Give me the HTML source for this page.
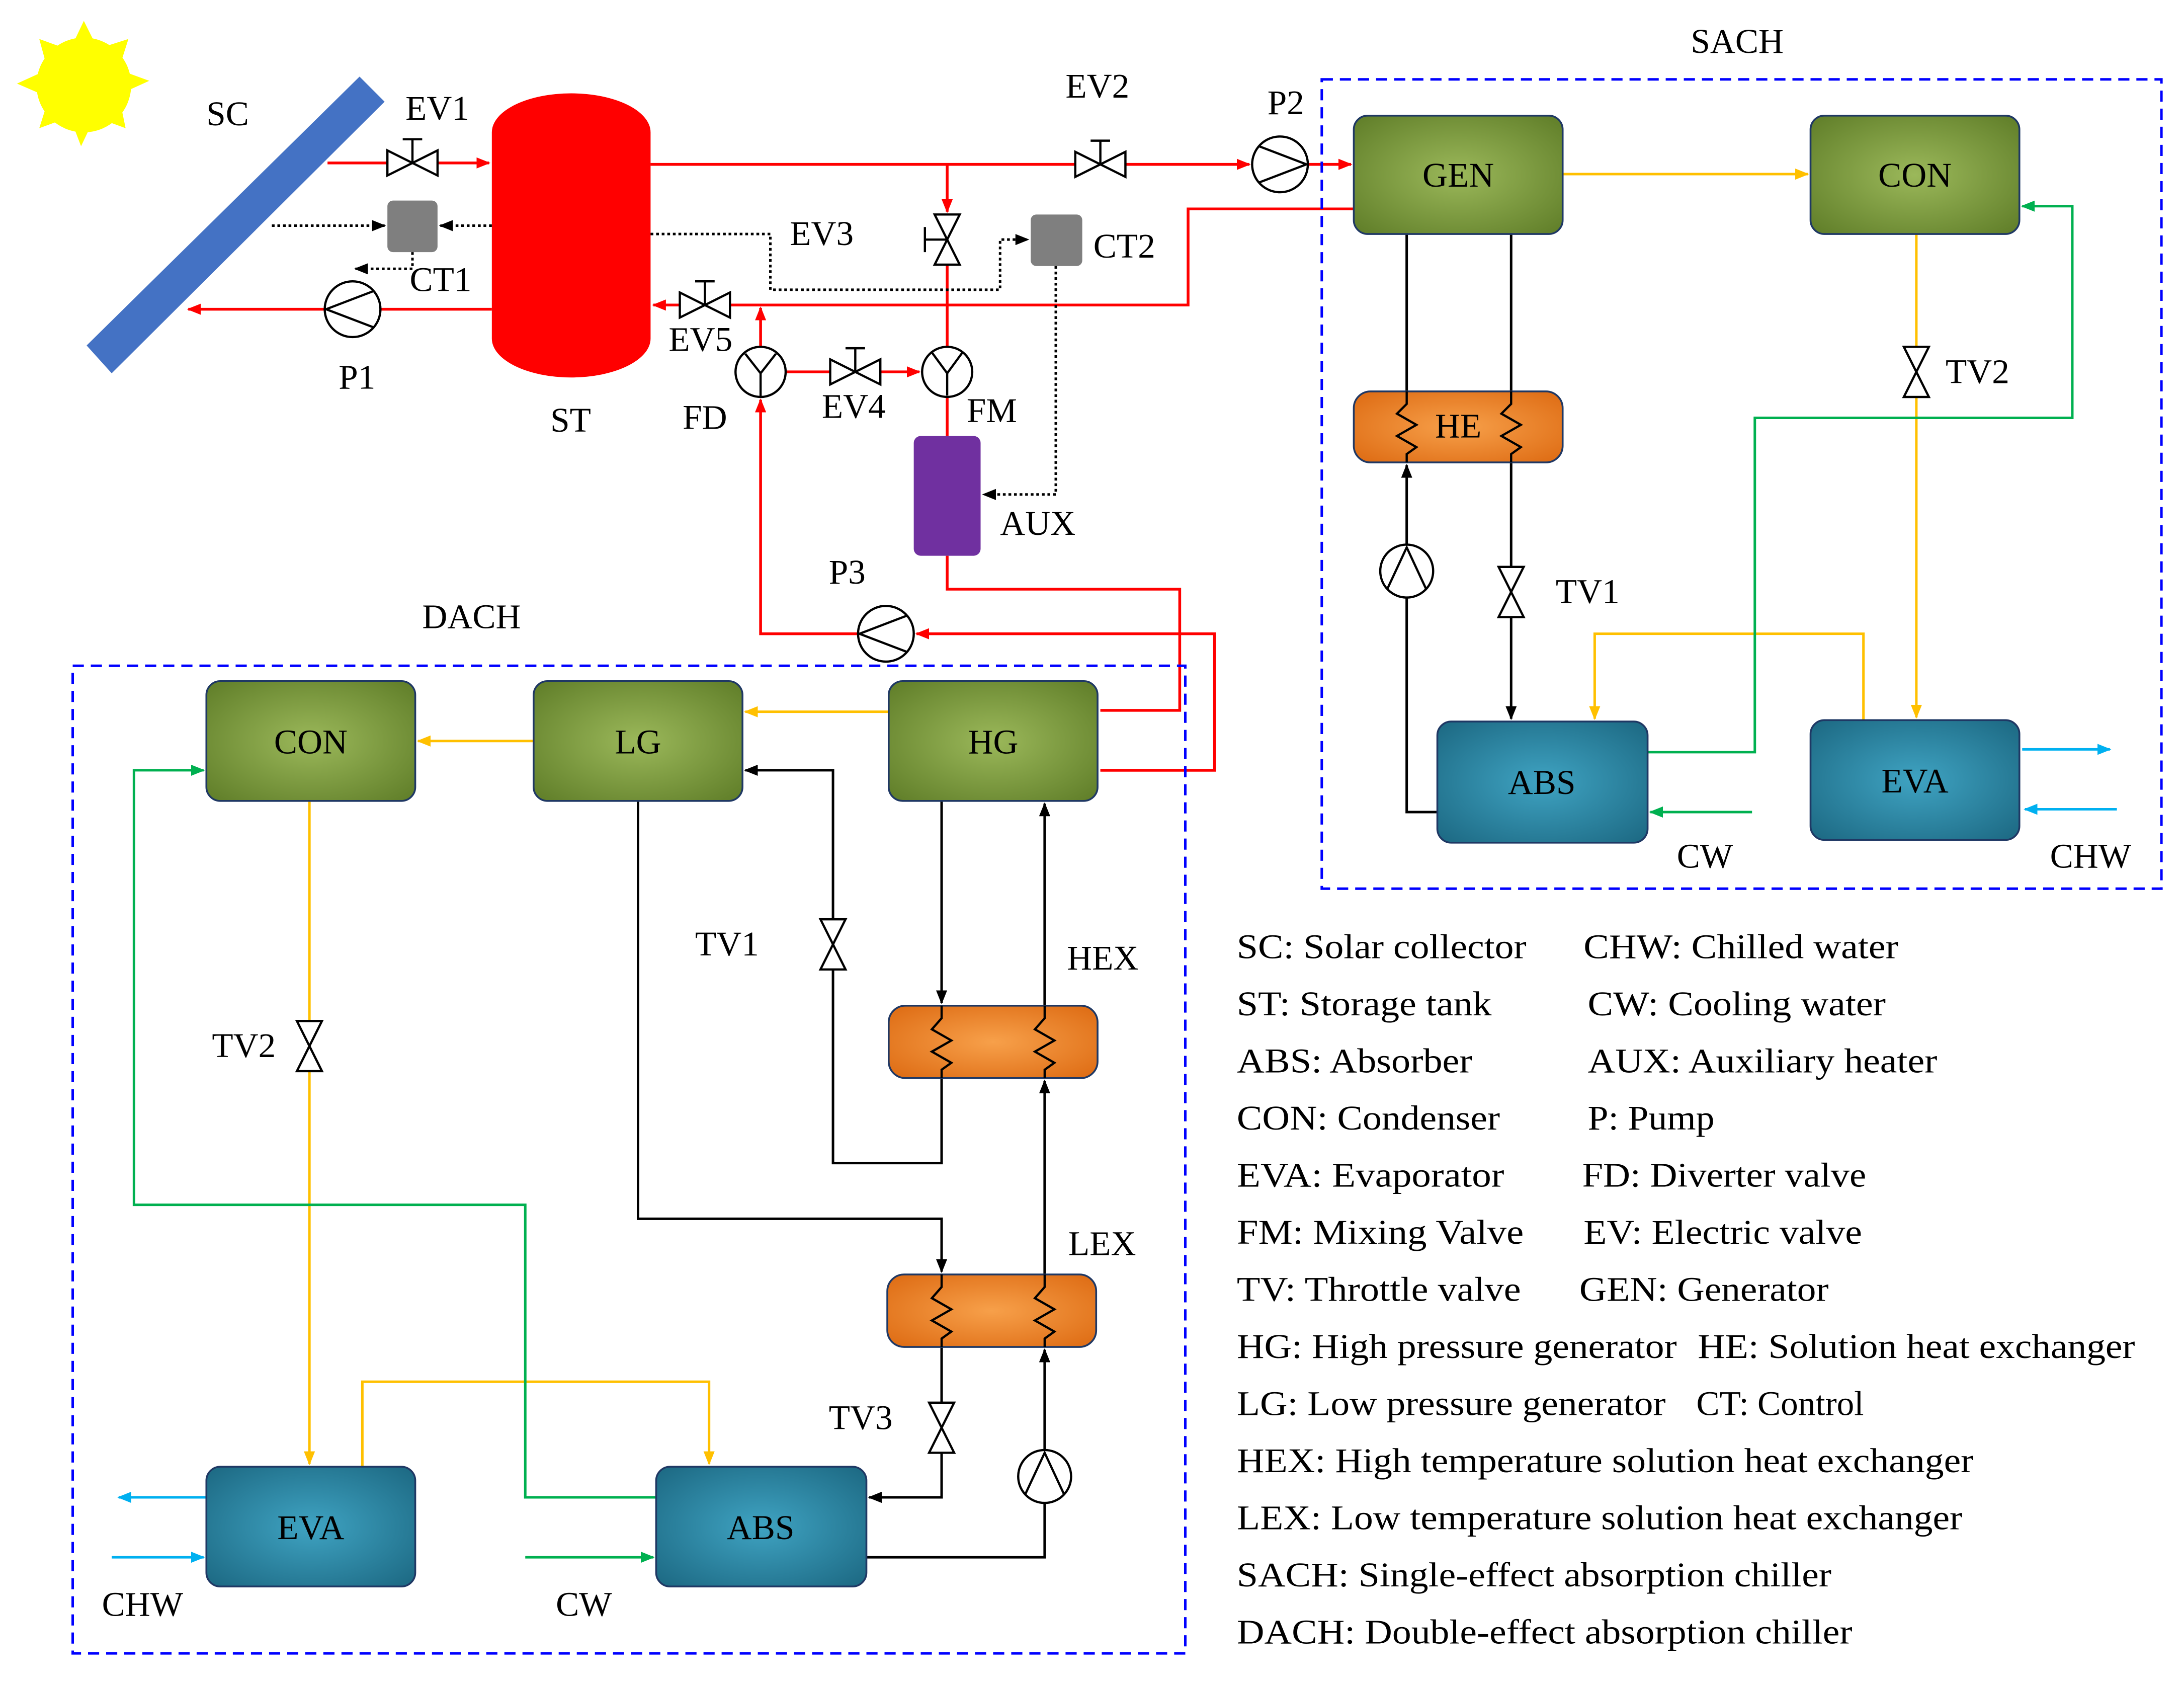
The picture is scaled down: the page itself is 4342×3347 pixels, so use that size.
<!DOCTYPE html>
<html><head><meta charset="utf-8"><style>
html,body{margin:0;padding:0;background:#fff;}
svg{display:block;}
text{font-family:"Liberation Serif",serif;fill:#000;}
</style></head><body>
<svg width="4342" height="3347" viewBox="0 0 1568 1209" xmlns="http://www.w3.org/2000/svg">
<defs>
<marker id="ar" markerWidth="10" markerHeight="8" refX="9" refY="4" orient="auto" markerUnits="userSpaceOnUse"><path d="M0,0 L10,4 L0,8 z" fill="#f00"/></marker>
<marker id="ak" markerWidth="10" markerHeight="8" refX="9" refY="4" orient="auto" markerUnits="userSpaceOnUse"><path d="M0,0 L10,4 L0,8 z" fill="#000"/></marker>
<marker id="ao" markerWidth="10" markerHeight="8" refX="9" refY="4" orient="auto" markerUnits="userSpaceOnUse"><path d="M0,0 L10,4 L0,8 z" fill="#ffc000"/></marker>
<marker id="ag" markerWidth="10" markerHeight="8" refX="9" refY="4" orient="auto" markerUnits="userSpaceOnUse"><path d="M0,0 L10,4 L0,8 z" fill="#00b050"/></marker>
<marker id="ab" markerWidth="10" markerHeight="8" refX="9" refY="4" orient="auto" markerUnits="userSpaceOnUse"><path d="M0,0 L10,4 L0,8 z" fill="#00b0f0"/></marker>
<radialGradient id="gg" cx="50%" cy="50%" r="70%"><stop offset="0" stop-color="#9bb85a"/><stop offset="1" stop-color="#5f7d28"/></radialGradient>
<radialGradient id="go" cx="50%" cy="50%" r="70%"><stop offset="0" stop-color="#f7a04a"/><stop offset="1" stop-color="#dd6a12"/></radialGradient>
<radialGradient id="gt" cx="50%" cy="50%" r="70%"><stop offset="0" stop-color="#3fa3c2"/><stop offset="1" stop-color="#1c6882"/></radialGradient>
</defs>

<polygon points="60,15 70,35 92,28 85,50 107,58 85,68 90,92 68,84 58,105 50,84 28,92 35,70 12,60 34,50 28,28 50,36" fill="#ffff00"/>
<circle cx="60" cy="61" r="34" fill="#ffff00"/>
<polygon points="62,248 258,55 276,73 80,268" fill="#4472c4"/>
<text x="148" y="90" font-size="25">SC</text>

<g stroke="#f00" stroke-width="2" fill="none">
<line x1="235" y1="117" x2="351" y2="117" marker-end="url(#ar)"/>
<line x1="467" y1="118" x2="897" y2="118" marker-end="url(#ar)"/>
<line x1="939" y1="118" x2="970" y2="118" marker-end="url(#ar)"/>
<line x1="680" y1="118" x2="680" y2="152" marker-end="url(#ar)"/>
<line x1="680" y1="190" x2="680" y2="249"/>
<line x1="680" y1="285" x2="680" y2="313"/>
<polyline points="972,150 853,150 853,219 469,219" marker-end="url(#ar)"/>
<line x1="353" y1="222" x2="135" y2="222" marker-end="url(#ar)"/>
<line x1="564" y1="267" x2="660" y2="267" marker-end="url(#ar)"/>
<line x1="546" y1="249" x2="546" y2="221" marker-end="url(#ar)"/>
<polyline points="680,399 680,423 847,423 847,510 790,510"/>
<polyline points="790,553 872,553 872,455 658,455" marker-end="url(#ar)"/>
<polyline points="616,455 546,455 546,287" marker-end="url(#ar)"/>
</g>

<path d="M353,95 A57,28 0 0 1 467,95 L467,243 A57,28 0 0 1 353,243 Z" fill="#f00"/>
<text x="395" y="310" font-size="25">ST</text>

<g stroke="#000" stroke-width="1.6" fill="#fff">
<polygon points="278,108 314,126 314,108 278,126"/><line x1="296" y1="117" x2="296" y2="100"/><line x1="289" y1="100" x2="303" y2="100"/>
<polygon points="772,109 808,127 808,109 772,127"/><line x1="790" y1="118" x2="790" y2="101"/><line x1="783" y1="101" x2="797" y2="101"/>
<polygon points="488,210 524,228 524,210 488,228"/><line x1="506" y1="219" x2="506" y2="202"/><line x1="499" y1="202" x2="513" y2="202"/>
<polygon points="596,258 632,276 632,258 596,276"/><line x1="614" y1="267" x2="614" y2="250"/><line x1="607" y1="250" x2="621" y2="250"/>
<polygon points="671,154 689,190 671,190 689,154"/><line x1="680" y1="172" x2="664" y2="172"/><line x1="664" y1="163" x2="664" y2="181"/>
</g>

<g stroke="#000" stroke-width="1.6" fill="#fff">
<circle cx="253" cy="222" r="20"/><polyline points="268,209 234,222 268,235" fill="none"/>
<circle cx="919" cy="118" r="20"/><polyline points="904,105 938,118 904,131" fill="none"/>
<circle cx="636" cy="455" r="20"/><polyline points="651,442 617,455 651,468" fill="none"/>
<circle cx="546" cy="267" r="18"/><line x1="546" y1="285" x2="546" y2="268" /><line x1="546" y1="268" x2="535" y2="254"/><line x1="546" y1="268" x2="557" y2="254"/>
<circle cx="680" cy="267" r="18"/><line x1="680" y1="268" x2="680" y2="284"/><line x1="680" y1="268" x2="669" y2="253"/><line x1="680" y1="268" x2="691" y2="253"/>
</g>

<rect x="278" y="144" width="36" height="37" rx="4" fill="#7f7f7f"/>
<rect x="740" y="154" width="37" height="37" rx="4" fill="#7f7f7f"/>
<g stroke="#000" stroke-width="1.8" stroke-dasharray="2,2" fill="none">
<line x1="195" y1="162" x2="276" y2="162" marker-end="url(#ak)"/>
<line x1="353" y1="162" x2="316" y2="162" marker-end="url(#ak)"/>
<polyline points="296,181 296,193 255,193" marker-end="url(#ak)"/>
<polyline points="467,168 553,168 553,208 718,208 718,172 738,172" marker-end="url(#ak)"/>
<polyline points="758,191 758,355 706,355" marker-end="url(#ak)"/>
</g>
<rect x="656" y="313" width="48" height="86" rx="5" fill="#7030a0"/>

<g font-size="25">
<text x="291" y="86">EV1</text>
<text x="765" y="70">EV2</text>
<text x="910" y="82">P2</text>
<text x="567" y="176">EV3</text>
<text x="785" y="185">CT2</text>
<text x="294" y="209">CT1</text>
<text x="243" y="279">P1</text>
<text x="480" y="252">EV5</text>
<text x="490" y="308">FD</text>
<text x="590" y="300">EV4</text>
<text x="694" y="303">FM</text>
<text x="718" y="384">AUX</text>
<text x="595" y="419">P3</text>
<text x="303" y="451">DACH</text>
<text x="1214" y="38">SACH</text>
</g>

<rect x="949" y="57" width="603" height="581" fill="none" stroke="#0000ff" stroke-width="1.8" stroke-dasharray="8,5"/>
<g stroke-width="1.8" fill="none">
<line x1="1122" y1="125" x2="1298" y2="125" stroke="#ffc000" marker-end="url(#ao)"/>
<line x1="1376" y1="168" x2="1376" y2="515" stroke="#ffc000" marker-end="url(#ao)"/>
<polyline points="1338,517 1338,455 1145,455 1145,516" stroke="#ffc000" marker-end="url(#ao)"/>
<polyline points="1183,540 1260,540 1260,300 1488,300 1488,148 1452,148" stroke="#00b050" marker-end="url(#ag)"/>
<line x1="1258" y1="583" x2="1185" y2="583" stroke="#00b050" marker-end="url(#ag)"/>
<line x1="1452" y1="538" x2="1515" y2="538" stroke="#00b0f0" marker-end="url(#ab)"/>
<line x1="1520" y1="581" x2="1454" y2="581" stroke="#00b0f0" marker-end="url(#ab)"/>
<line x1="1010" y1="168" x2="1010" y2="281" stroke="#000"/>
<line x1="1085" y1="168" x2="1085" y2="281" stroke="#000"/>
<polyline points="1032,583 1010,583 1010,429" stroke="#000"/>
<line x1="1010" y1="391" x2="1010" y2="334" stroke="#000" marker-end="url(#ak)"/>
<line x1="1085" y1="332" x2="1085" y2="516" stroke="#000" marker-end="url(#ak)"/>
</g>
<g stroke="#000" stroke-width="1.3">
<rect x="972" y="83" width="150" height="85" rx="10" fill="url(#gg)" stroke="#1f3864"/>
<rect x="1300" y="83" width="150" height="85" rx="10" fill="url(#gg)" stroke="#1f3864"/>
<rect x="972" y="281" width="150" height="51" rx="12" fill="url(#go)" stroke="#1f3864"/>
<rect x="1032" y="518" width="151" height="87" rx="10" fill="url(#gt)" stroke="#1f3864"/>
<rect x="1300" y="517" width="150" height="86" rx="10" fill="url(#gt)" stroke="#1f3864"/>
</g>
<g stroke="#000" stroke-width="1.6" fill="none">
<polyline points="1010,281 1010,290 1003,297 1017,305 1003,313 1017,321 1010,326 1010,332"/>
<polyline points="1085,281 1085,290 1078,297 1092,305 1078,313 1092,321 1085,326 1085,332"/>
</g>
<g stroke="#000" stroke-width="1.6" fill="#fff">
<polygon points="1367,249 1385,285 1367,285 1385,249"/>
<polygon points="1076,407 1094,443 1076,443 1094,407"/>
<circle cx="1010" cy="410" r="19"/><polyline points="996,423 1010,393 1024,423" fill="none"/>
</g>
<g font-size="25">
<text x="1047" y="134" text-anchor="middle">GEN</text>
<text x="1375" y="134" text-anchor="middle">CON</text>
<text x="1047" y="314" text-anchor="middle">HE</text>
<text x="1107" y="570" text-anchor="middle">ABS</text>
<text x="1375" y="569" text-anchor="middle">EVA</text>
<text x="1397" y="275">TV2</text>
<text x="1117" y="433">TV1</text>
<text x="1204" y="623">CW</text>
<text x="1472" y="623">CHW</text>
</g>

<rect x="52" y="478" width="799" height="709" fill="none" stroke="#0000ff" stroke-width="1.8" stroke-dasharray="8,5"/>
<g stroke-width="1.8" fill="none">
<line x1="638" y1="511" x2="535" y2="511" stroke="#ffc000" marker-end="url(#ao)"/>
<line x1="383" y1="532" x2="300" y2="532" stroke="#ffc000" marker-end="url(#ao)"/>
<line x1="222" y1="575" x2="222" y2="1051" stroke="#ffc000" marker-end="url(#ao)"/>
<polyline points="260,1053 260,992 509,992 509,1051" stroke="#ffc000" marker-end="url(#ao)"/>
<polyline points="471,1075 377,1075 377,865 96,865 96,553 146,553" stroke="#00b050" marker-end="url(#ag)"/>
<line x1="377" y1="1118" x2="469" y2="1118" stroke="#00b050" marker-end="url(#ag)"/>
<line x1="148" y1="1075" x2="85" y2="1075" stroke="#00b0f0" marker-end="url(#ab)"/>
<line x1="80" y1="1118" x2="146" y2="1118" stroke="#00b0f0" marker-end="url(#ab)"/>
<line x1="676" y1="575" x2="676" y2="720" stroke="#000" marker-end="url(#ak)"/>
<line x1="750" y1="722" x2="750" y2="577" stroke="#000" marker-end="url(#ak)"/>
<polyline points="676,774 676,835 598,835 598,553 535,553" stroke="#000" marker-end="url(#ak)"/>
<line x1="750" y1="915" x2="750" y2="776" stroke="#000" marker-end="url(#ak)"/>
<polyline points="458,575 458,875 676,875 676,913" stroke="#000" marker-end="url(#ak)"/>
<polyline points="676,967 676,1075 624,1075" stroke="#000" marker-end="url(#ak)"/>
<polyline points="622,1118 750,1118 750,1079" stroke="#000"/>
<line x1="750" y1="1041" x2="750" y2="969" stroke="#000" marker-end="url(#ak)"/>
</g>
<g stroke-width="1.3">
<rect x="148" y="489" width="150" height="86" rx="10" fill="url(#gg)" stroke="#1f3864"/>
<rect x="383" y="489" width="150" height="86" rx="10" fill="url(#gg)" stroke="#1f3864"/>
<rect x="638" y="489" width="150" height="86" rx="10" fill="url(#gg)" stroke="#1f3864"/>
<rect x="638" y="722" width="150" height="52" rx="12" fill="url(#go)" stroke="#1f3864"/>
<rect x="637" y="915" width="150" height="52" rx="12" fill="url(#go)" stroke="#1f3864"/>
<rect x="148" y="1053" width="150" height="86" rx="10" fill="url(#gt)" stroke="#1f3864"/>
<rect x="471" y="1053" width="151" height="86" rx="10" fill="url(#gt)" stroke="#1f3864"/>
</g>
<g stroke="#000" stroke-width="1.6" fill="none">
<polyline points="676,722 676,731 669,739 683,747 669,755 683,763 676,768 676,774"/>
<polyline points="750,722 750,731 743,739 757,747 743,755 757,763 750,768 750,774"/>
<polyline points="676,915 676,924 669,932 683,940 669,948 683,956 676,961 676,967"/>
<polyline points="750,915 750,924 743,932 757,940 743,948 757,956 750,961 750,967"/>
</g>
<g stroke="#000" stroke-width="1.6" fill="#fff">
<polygon points="213,733 231,769 213,769 231,733"/>
<polygon points="589,660 607,696 589,696 607,660"/>
<polygon points="667,1007 685,1043 667,1043 685,1007"/>
<circle cx="750" cy="1060" r="19"/><polyline points="736,1073 750,1043 764,1073" fill="none"/>
</g>
<g font-size="25">
<text x="223" y="541" text-anchor="middle">CON</text>
<text x="458" y="541" text-anchor="middle">LG</text>
<text x="713" y="541" text-anchor="middle">HG</text>
<text x="223" y="1105" text-anchor="middle">EVA</text>
<text x="546" y="1105" text-anchor="middle">ABS</text>
<text x="499" y="686">TV1</text>
<text x="766" y="696">HEX</text>
<text x="152" y="759">TV2</text>
<text x="767" y="901">LEX</text>
<text x="595" y="1026">TV3</text>
<text x="73" y="1160">CHW</text>
<text x="399" y="1160">CW</text>
</g>

<g font-size="25">
<text x="888" y="688" textLength="208" lengthAdjust="spacingAndGlyphs">SC: Solar collector</text><text x="1137" y="688" textLength="226" lengthAdjust="spacingAndGlyphs">CHW: Chilled water</text>
<text x="888" y="729" textLength="183" lengthAdjust="spacingAndGlyphs">ST: Storage tank</text><text x="1140" y="729" textLength="214" lengthAdjust="spacingAndGlyphs">CW: Cooling water</text>
<text x="888" y="770" textLength="169" lengthAdjust="spacingAndGlyphs">ABS: Absorber</text><text x="1140" y="770" textLength="251" lengthAdjust="spacingAndGlyphs">AUX: Auxiliary heater</text>
<text x="888" y="811" textLength="189" lengthAdjust="spacingAndGlyphs">CON: Condenser</text><text x="1140" y="811" textLength="91" lengthAdjust="spacingAndGlyphs">P: Pump</text>
<text x="888" y="852" textLength="192" lengthAdjust="spacingAndGlyphs">EVA: Evaporator</text><text x="1136" y="852" textLength="204" lengthAdjust="spacingAndGlyphs">FD: Diverter valve</text>
<text x="888" y="893" textLength="206" lengthAdjust="spacingAndGlyphs">FM: Mixing Valve</text><text x="1137" y="893" textLength="200" lengthAdjust="spacingAndGlyphs">EV: Electric valve</text>
<text x="888" y="934" textLength="204" lengthAdjust="spacingAndGlyphs">TV: Throttle valve</text><text x="1134" y="934" textLength="179" lengthAdjust="spacingAndGlyphs">GEN: Generator</text>
<text x="888" y="975" textLength="316" lengthAdjust="spacingAndGlyphs">HG: High pressure generator</text><text x="1219" y="975" textLength="314" lengthAdjust="spacingAndGlyphs">HE: Solution heat exchanger</text>
<text x="888" y="1016" textLength="308" lengthAdjust="spacingAndGlyphs">LG: Low pressure generator</text><text x="1218" y="1016">CT: Control</text>
<text x="888" y="1057" textLength="529" lengthAdjust="spacingAndGlyphs">HEX: High temperature solution heat exchanger</text>
<text x="888" y="1098" textLength="521" lengthAdjust="spacingAndGlyphs">LEX: Low temperature solution heat exchanger</text>
<text x="888" y="1139" textLength="427" lengthAdjust="spacingAndGlyphs">SACH: Single-effect absorption chiller</text>
<text x="888" y="1180" textLength="442" lengthAdjust="spacingAndGlyphs">DACH: Double-effect absorption chiller</text>
</g>
</svg>
</body></html>
